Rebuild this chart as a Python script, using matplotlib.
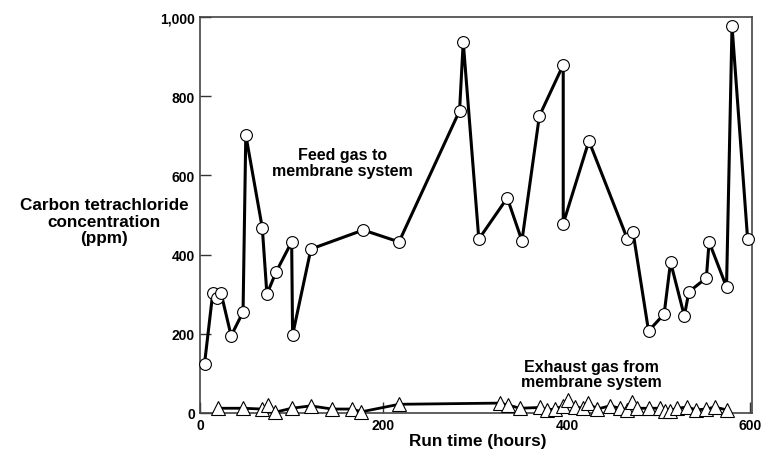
import matplotlib.pyplot as plt
from matplotlib.ticker import FuncFormatter

# feed gas (circles)
feed_hours = [5, 14, 19, 23, 34, 47, 50, 68, 73, 83, 100, 101, 121, 178, 217,
              283, 287, 304, 335, 351, 370, 396, 396, 424, 466, 472, 489, 506,
              513, 528, 533, 552, 555, 574, 580, 597]
feed_ppm = [124, 303, 290, 303, 195, 255, 702, 467, 300, 356, 432, 197, 414,
            462, 432, 763, 937, 439, 543, 435, 750, 879, 478, 687, 439, 458,
            207, 250, 381, 245, 306, 341, 432, 318, 977, 439]

# exhaust gas (triangles)
exhaust_hours = [20, 47, 68, 74, 82, 100, 121, 144, 166, 176, 217, 327, 336,
                 349, 371, 378, 387, 396, 401, 409, 418, 423, 433, 447, 458,
                 466, 471, 476, 490, 501, 507, 512, 520, 531, 541, 552, 561, 574]
exhaust_ppm = [12, 12, 10, 20, 2, 12, 18, 10, 10, 3, 22, 25, 20, 12, 14, 8, 10,
               18, 32, 15, 12, 25, 10, 18, 12, 8, 28, 12, 12, 12, 6, 5, 12, 15,
               8, 10, 15, 8]

plt.rcParams["font.family"] = ["Liberation Sans", "DejaVu Sans"]
plt.rcParams["font.weight"] = "bold"

fig = plt.figure(figsize=(7.66, 4.6), dpi=100)
ax = fig.add_axes([0.261, 0.1, 0.721, 0.861])

ax.plot(exhaust_hours, exhaust_ppm, color="black", linewidth=2.0,
        marker="^", markersize=10, markerfacecolor="white",
        markeredgecolor="black", markeredgewidth=0.8, clip_on=False, zorder=3)
ax.plot(feed_hours, feed_ppm, color="black", linewidth=2.2,
        marker="o", markersize=8.5, markerfacecolor="white",
        markeredgecolor="black", markeredgewidth=0.8, clip_on=False, zorder=4)

ax.set_xlim(0, 602)
ax.set_ylim(0, 1000)
ax.set_xticks([0, 200, 400, 600])
ax.set_yticks([0, 200, 400, 600, 800, 1000])
ax.yaxis.set_major_formatter(FuncFormatter(lambda v, p: f"{int(v):,}"))
ax.tick_params(direction="in", length=8, width=1, labelsize=10, color="#333333")
for lbl in ax.get_xticklabels() + ax.get_yticklabels():
    lbl.set_fontweight("bold")
for s in ax.spines.values():
    s.set_color("#444444")
    s.set_linewidth(1.2)

ax.text(155, 632, "Feed gas to\nmembrane system", ha="center", va="center",
        fontsize=11.5, fontweight="bold", linespacing=1.05)
ax.text(427, 98, "Exhaust gas from\nmembrane system", ha="center", va="center",
        fontsize=11.5, fontweight="bold", linespacing=1.05)

fig.text(0.136, 0.517, "Carbon tetrachloride\nconcentration\n(ppm)",
         ha="center", va="center", fontsize=12.3, fontweight="bold", linespacing=1.15)
fig.text(0.624, 0.041, "Run time (hours)", ha="center", va="center",
         fontsize=12.3, fontweight="bold")

fig.savefig("out.png", dpi=100)
